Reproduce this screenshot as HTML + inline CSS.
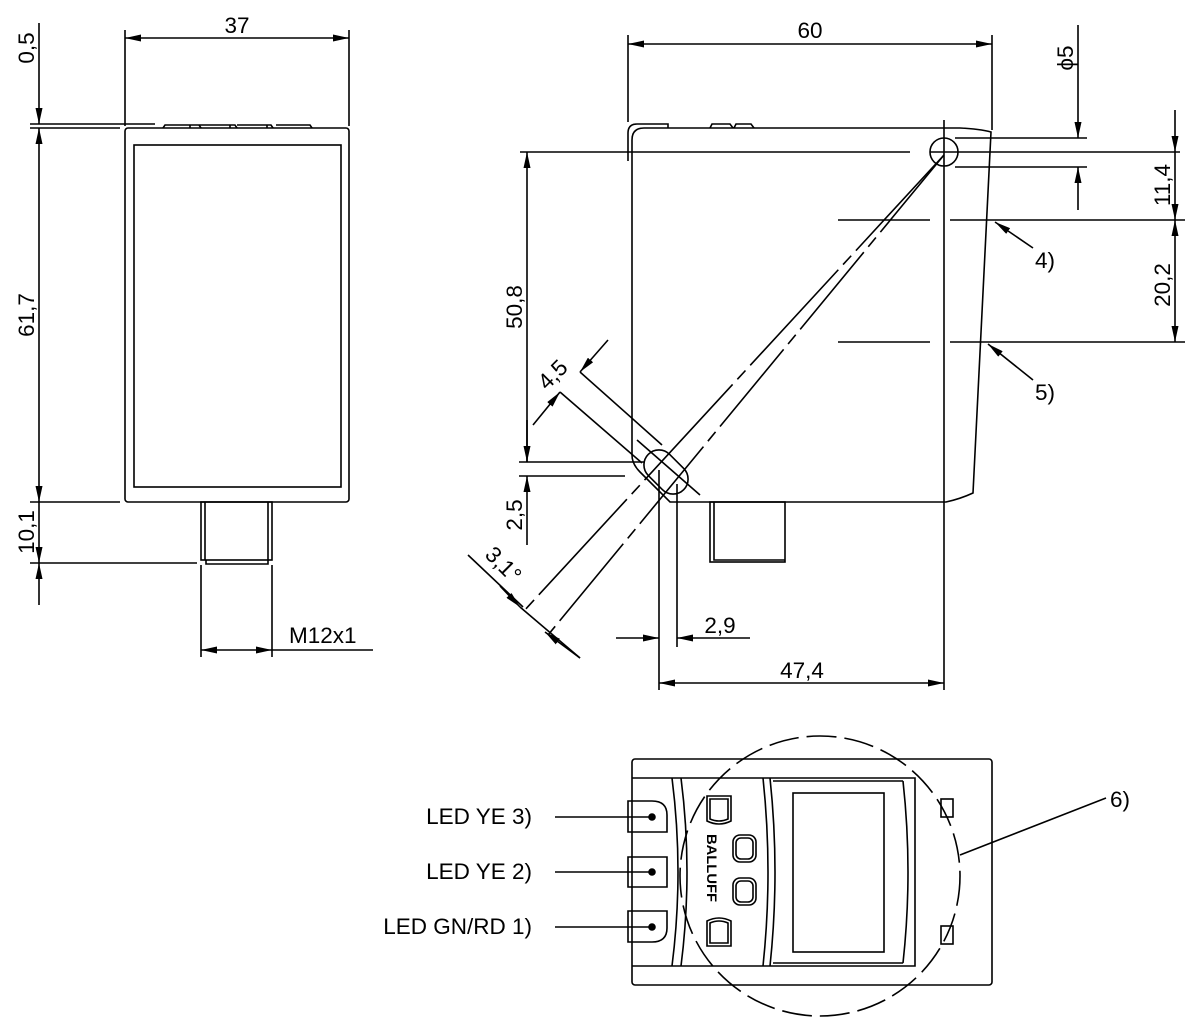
<!DOCTYPE html>
<html><head><meta charset="utf-8"><style>
html,body{margin:0;padding:0;background:#fff;}
svg{display:block;}
text{font-family:"Liberation Sans",Arial,sans-serif;fill:#000;}
</style></head><body>
<svg width="1200" height="1029" viewBox="0 0 1200 1029" xmlns="http://www.w3.org/2000/svg">
<defs>
<marker id="a" viewBox="0 0 16 7" refX="16" refY="3.5" markerWidth="16" markerHeight="7" markerUnits="userSpaceOnUse" orient="auto-start-reverse"><path d="M0,0 L16,3.5 L0,7 z" fill="#000"/></marker>
</defs>
<g fill="none" stroke="#000" stroke-width="1.6">
<!-- ===== LEFT VIEW ===== -->
<rect x="125" y="128" width="224" height="374" rx="3"/>
<rect x="134" y="145" width="207" height="342"/>
<path d="M163,128 l2,-3 h34 l2,3 M190,125 v3 M199,125 h36 l2,3 M230,125 v3 M237,125 h34 l2,3 M267,125 v3 M276,125 h34 l2,3"/>
<rect x="201" y="502" width="71" height="58"/>
<path d="M205,502 v58 M268,502 v58 M206,560 v4 h62 v-4"/>
<line x1="125" y1="30" x2="125" y2="126"/>
<line x1="349" y1="30" x2="349" y2="126"/>
<line x1="125" y1="38" x2="349" y2="38" marker-start="url(#a)" marker-end="url(#a)"/>
<line x1="39" y1="23" x2="39" y2="124" marker-end="url(#a)"/>
<line x1="39" y1="128" x2="39" y2="502" marker-start="url(#a)" marker-end="url(#a)"/>
<line x1="39" y1="502" x2="39" y2="563" marker-end="url(#a)"/>
<line x1="39" y1="605" x2="39" y2="563" marker-end="url(#a)"/>
<line x1="30" y1="124" x2="155" y2="124"/>
<line x1="30" y1="128" x2="120" y2="128"/>
<line x1="30" y1="502" x2="120" y2="502"/>
<line x1="30" y1="563" x2="197" y2="563"/>
<line x1="201" y1="565" x2="201" y2="657"/>
<line x1="272" y1="565" x2="272" y2="657"/>
<line x1="201" y1="650" x2="272" y2="650" marker-start="url(#a)" marker-end="url(#a)"/>
<line x1="272" y1="650" x2="373" y2="650"/>

<!-- ===== MIDDLE VIEW ===== -->
<path d="M632,160 V140 Q632,128 644,128 H960 Q980,129 991,132 L973,493 Q960,499 946,502 H670 L640,472 Q632,464 632,455 Z"/>
<path d="M628,161 V133 Q628,124 637,124 H668 V128"/>
<path d="M710,128 l2,-4 h18 l3,4 M734,128 l2,-4 h15 l3,4"/>
<rect x="710" y="502" width="75" height="60"/>
<path d="M714,502 v58 h71"/>
<circle cx="944" cy="152" r="14"/>
<rect x="641" y="457" width="50" height="30" rx="15" transform="rotate(45 666 472)"/>
<path d="M944,155 L523,612" stroke-dasharray="130,7,12,7"/>
<path d="M944,155 L548,635" stroke-dasharray="100,7,12,7"/>
<line x1="580" y1="372" x2="662" y2="445"/>
<line x1="560" y1="392" x2="642" y2="463"/>
<line x1="637" y1="440" x2="700" y2="495"/>
<line x1="608" y1="340" x2="580" y2="372" marker-end="url(#a)"/>
<line x1="533" y1="425" x2="560" y2="392" marker-end="url(#a)"/>
<line x1="468" y1="555" x2="523" y2="607" />
<line x1="500" y1="586" x2="520" y2="607" marker-end="url(#a)"/>
<line x1="580" y1="658" x2="545" y2="632" marker-end="url(#a)"/>
<line x1="520" y1="607" x2="580" y2="658"/>
<path d="M520,152 H910 M930,152 H1180"/>
<path d="M944,120 V690"/>
<path d="M838,220 H930 M950,220 H1185"/>
<path d="M838,342 H930 M950,342 H1185"/>
<line x1="628" y1="35" x2="628" y2="122"/>
<line x1="992" y1="35" x2="992" y2="130"/>
<line x1="628" y1="44" x2="992" y2="44" marker-start="url(#a)" marker-end="url(#a)"/>
<line x1="955" y1="138" x2="1087" y2="138"/>
<line x1="955" y1="167" x2="1087" y2="167"/>
<line x1="1078" y1="25" x2="1078" y2="138" marker-end="url(#a)"/>
<line x1="1078" y1="210" x2="1078" y2="167" marker-end="url(#a)"/>
<line x1="1175" y1="110" x2="1175" y2="152" marker-end="url(#a)"/>
<line x1="1175" y1="152" x2="1175" y2="220" marker-end="url(#a)"/>
<line x1="1175" y1="220" x2="1175" y2="342" marker-start="url(#a)" marker-end="url(#a)"/>
<line x1="1033" y1="248" x2="995" y2="222" marker-end="url(#a)"/>
<line x1="1033" y1="380" x2="988" y2="344" marker-end="url(#a)"/>
<line x1="519" y1="462" x2="645" y2="462"/>
<line x1="519" y1="476" x2="625" y2="476"/>
<line x1="527" y1="462" x2="527" y2="152" marker-end="url(#a)"/>
<line x1="527" y1="420" x2="527" y2="462" marker-end="url(#a)"/>
<line x1="527" y1="545" x2="527" y2="476" marker-end="url(#a)"/>
<line x1="659" y1="470" x2="659" y2="690"/>
<line x1="677" y1="484" x2="677" y2="647"/>
<line x1="616" y1="638" x2="659" y2="638" marker-end="url(#a)"/>
<line x1="750" y1="638" x2="677" y2="638" marker-end="url(#a)"/>
<line x1="659" y1="683" x2="944" y2="683" marker-start="url(#a)" marker-end="url(#a)"/>

<!-- ===== BOTTOM VIEW ===== -->
<rect x="632" y="759" width="360" height="226" rx="3"/>
<path d="M632,778 H915 V966 H632"/>
<path d="M672,778 Q684,872 672,966 M681,778 Q693,872 681,966"/>
<path d="M763,778 Q773,872 763,966 M770,778 Q780,872 770,966"/>
<path d="M903,781 Q913,872 903,963 M773,781 H903 M773,963 H903"/>
<rect x="793" y="793" width="91" height="159"/>
<path d="M628,801 H652 Q667,801 667,815 V832 H628 Z"/>
<path d="M628,857 H667 V887 H628 Z"/>
<path d="M628,911 H667 V928 Q667,942 652,942 H628 Z"/>
<rect x="941" y="799" width="12" height="18"/>
<rect x="941" y="926" width="12" height="18"/>
<path d="M707,796 h24 v25 q-12,6 -24,0 z M710,799 h18 v20 q-9,4 -18,0 z"/>
<path d="M707,946 h24 v-25 q-12,-6 -24,0 z M710,943 h18 v-20 q-9,-4 -18,0 z"/>
<rect x="733" y="835" width="23" height="27" rx="7"/>
<rect x="736" y="838" width="17" height="21" rx="5"/>
<rect x="733" y="878" width="23" height="27" rx="7"/>
<rect x="736" y="881" width="17" height="21" rx="5"/>
<circle cx="820" cy="876" r="140" stroke-dasharray="30,8"/>
<line x1="960" y1="855" x2="1106" y2="798"/>
<line x1="555" y1="817" x2="652" y2="817"/>
<line x1="555" y1="872" x2="652" y2="872"/>
<line x1="555" y1="927" x2="652" y2="927"/>
</g>
<g fill="#000">
<circle cx="652" cy="817" r="3.8"/><circle cx="652" cy="872" r="3.8"/><circle cx="652" cy="927" r="3.8"/>
</g>
<g font-size="22.5">
<text x="237" y="33" text-anchor="middle">37</text>
<text transform="translate(34,48) rotate(-90)" text-anchor="middle">0,5</text>
<text transform="translate(34,315) rotate(-90)" text-anchor="middle">61,7</text>
<text transform="translate(34,532) rotate(-90)" text-anchor="middle">10,1</text>
<text x="289" y="643">M12x1</text>
<text x="810" y="38" text-anchor="middle">60</text>
<text transform="translate(1073,58) rotate(-90)" text-anchor="middle">ϕ5</text>
<text transform="translate(1170,185) rotate(-90)" text-anchor="middle">11,4</text>
<text transform="translate(1170,285) rotate(-90)" text-anchor="middle">20,2</text>
<text x="1035" y="268">4)</text>
<text x="1035" y="400">5)</text>
<text transform="translate(522,307) rotate(-90)" text-anchor="middle">50,8</text>
<text transform="translate(522,515) rotate(-90)" text-anchor="middle">2,5</text>
<text transform="translate(558,380) rotate(-45)" text-anchor="middle">4,5</text>
<text transform="translate(498,570) rotate(45)" text-anchor="middle">3,1°</text>
<text x="720" y="633" text-anchor="middle">2,9</text>
<text x="802" y="678" text-anchor="middle">47,4</text>
<text x="532" y="824" text-anchor="end">LED YE 3)</text>
<text x="532" y="879" text-anchor="end">LED YE 2)</text>
<text x="532" y="934" text-anchor="end">LED GN/RD 1)</text>
<text x="1110" y="807">6)</text>
</g>
<text transform="translate(707,834) rotate(90)" font-size="14" font-weight="bold" textLength="68" lengthAdjust="spacingAndGlyphs">BALLUFF</text>
</svg>
</body></html>
